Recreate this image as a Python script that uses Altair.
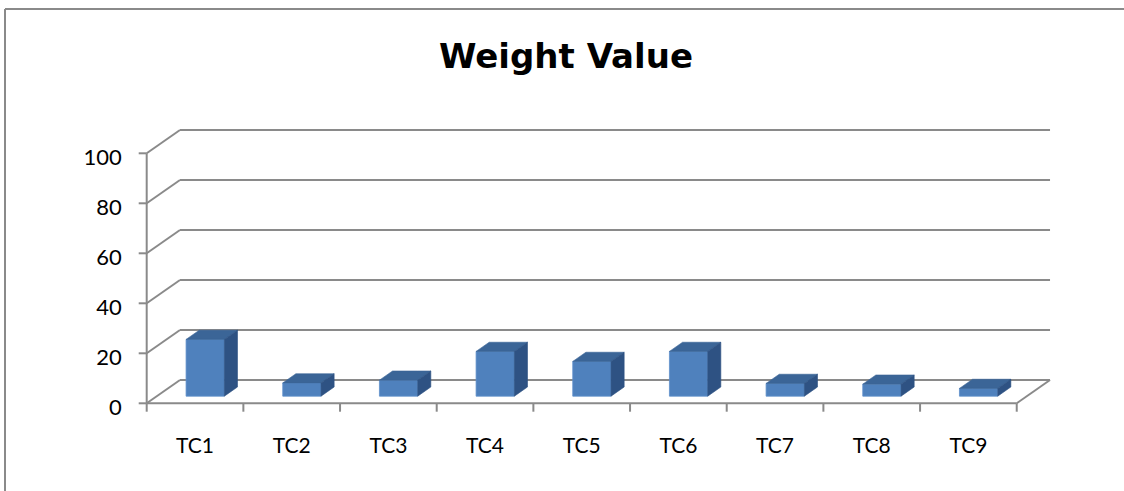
import altair as alt
import pandas as pd

# ---------------- data ----------------
categories = ["TC1", "TC2", "TC3", "TC4", "TC5", "TC6", "TC7", "TC8", "TC9"]
values = [22.7, 5.3, 6.4, 17.9, 13.9, 17.9, 5.1, 4.8, 3.1]
y_ticks = [0, 20, 40, 60, 80, 100]
title_text = "Weight Value"

# ---------------- geometry (pseudo 3-D) ----------------
W, H = 1124, 491
PX0 = 146.7      # px of the front-left floor corner
STEP = 96.67     # px per category
PY0 = 403.3      # px of value 0 on the front plane
PPU = 2.5        # px per value unit
DX = 33.3 / STEP  # depth shift in category units
DY = 23.3 / PPU   # depth shift in value units
F0, F1 = 0.306, 0.70   # bar depth range (fraction of depth)
BW = 0.396             # bar width (category units)
N = len(categories)
YMAX = max(y_ticks)

xs = alt.Scale(domain=[(0 - PX0) / STEP, (W - PX0) / STEP], nice=False, zero=False)
ys = alt.Scale(domain=[(PY0 - H) / PPU, PY0 / PPU], nice=False, zero=False)

GRID = "#8A8A8A"
FRONT, TOP, SIDE = "#4F81BD", "#3B6597", "#2E5283"
FONT = "Lato"

# ---------------- grid / walls ----------------
seg = []
for v in y_ticks:
    seg.append(dict(x=0, y=v, x2=DX, y2=v + DY))            # diagonal on side wall
    seg.append(dict(x=DX, y=v + DY, x2=N + DX, y2=v + DY))   # back wall gridline
seg.append(dict(x=0, y=0, x2=N, y2=0))                      # front floor edge
seg.append(dict(x=N, y=0, x2=N + DX, y2=DY))                # right floor edge
seg.append(dict(x=0, y=0, x2=0, y2=YMAX))                   # front value axis
for v in y_ticks:
    seg.append(dict(x=-8 / STEP, y=v, x2=0, y2=v))          # value ticks
for i in range(N + 1):
    seg.append(dict(x=i, y=0, x2=i, y2=-8.4 / PPU))         # category ticks
seg_df = pd.DataFrame(seg)

grid = alt.Chart(seg_df).mark_rule(color=GRID, strokeWidth=2).encode(
    x=alt.X("x:Q", scale=xs, axis=None),
    y=alt.Y("y:Q", scale=ys, axis=None),
    x2="x2:Q",
    y2="y2:Q",
)

# ---------------- bars ----------------
base = F0 * DY
dxb = (F1 - F0) * DX
dyb = (F1 - F0) * DY
front_rows, top_rows, side_rows = [], [], []
for i, (c, v) in enumerate(zip(categories, values)):
    x0 = i + 0.5 - BW / 2 + F0 * DX
    x1 = x0 + BW
    h = base + v
    front_rows.append(dict(cat=c, x=x0, x2=x1, y=base, y2=h))
    for xx, up, lo in [(x0, h, h), (x0 + dxb, h + dyb, h), (x1, h + dyb, h), (x1 + dxb, h + dyb, h + dyb)]:
        top_rows.append(dict(cat=c, x=xx, y=up, y2=lo))
    for xx, up, lo in [(x1, h, base), (x1 + dxb, h + dyb, base + dyb)]:
        side_rows.append(dict(cat=c, x=xx, y=up, y2=lo))

front = alt.Chart(pd.DataFrame(front_rows)).mark_rect(
    color=FRONT, stroke="#5E8FCB", strokeWidth=0.8
).encode(
    x=alt.X("x:Q", scale=xs, axis=None),
    x2="x2:Q",
    y=alt.Y("y:Q", scale=ys, axis=None),
    y2="y2:Q",
)

top = alt.Chart(pd.DataFrame(top_rows)).mark_area(
    color=TOP, stroke=TOP, strokeWidth=0.6, interpolate="linear"
).encode(
    x=alt.X("x:Q", scale=xs, axis=None),
    y=alt.Y("y:Q", scale=ys, axis=None),
    y2="y2:Q",
    detail="cat:N",
)

side = alt.Chart(pd.DataFrame(side_rows)).mark_area(
    color=SIDE, stroke=SIDE, strokeWidth=0.6, interpolate="linear"
).encode(
    x=alt.X("x:Q", scale=xs, axis=None),
    y=alt.Y("y:Q", scale=ys, axis=None),
    y2="y2:Q",
    detail="cat:N",
)

# ---------------- labels ----------------
ylab_df = pd.DataFrame({"v": y_ticks, "x": [-25 / STEP] * len(y_ticks)})
ylabels = alt.Chart(ylab_df).mark_text(
    align="right", baseline="alphabetic", dy=11.5, font=FONT, fontSize=22, color="#000000"
).encode(
    x=alt.X("x:Q", scale=xs, axis=None),
    y=alt.Y("v:Q", scale=ys, axis=None),
    text=alt.Text("v:Q", format="d"),
)

xlab_df = pd.DataFrame({"cat": categories, "x": [i + 0.5 for i in range(N)], "y": [-19.8] * N})
xlabels = alt.Chart(xlab_df).mark_text(
    align="center", baseline="alphabetic", font=FONT, fontSize=21, color="#000000"
).encode(
    x=alt.X("x:Q", scale=xs, axis=None),
    y=alt.Y("y:Q", scale=ys, axis=None),
    text="cat:N",
)

title = alt.Chart(pd.DataFrame({"t": [title_text]})).mark_text(
    align="center", baseline="alphabetic", font="DejaVu Sans", fontSize=34,
    fontWeight="bold", color="#000000"
).encode(x=alt.value(566), y=alt.value(68), text="t:N")

one = pd.DataFrame({"a": [0]})
border_left = alt.Chart(one).mark_rule(color="#8A8A8A", strokeWidth=2).encode(
    x=alt.value(5), y=alt.value(9), y2=alt.value(H)
)
border_top = alt.Chart(one).mark_rule(color="#8A8A8A", strokeWidth=2).encode(
    x=alt.value(5), x2=alt.value(W), y=alt.value(9)
)

chart = alt.layer(
    border_left, border_top, grid, front, top, side, ylabels, xlabels, title
).properties(
    width=W, height=H, padding=0, autosize=alt.AutoSizeParams(type="none"),
    background="#FFFFFF",
).configure_view(stroke=None)

chart.save("out.html", embed_options={"renderer": "svg", "actions": False})
